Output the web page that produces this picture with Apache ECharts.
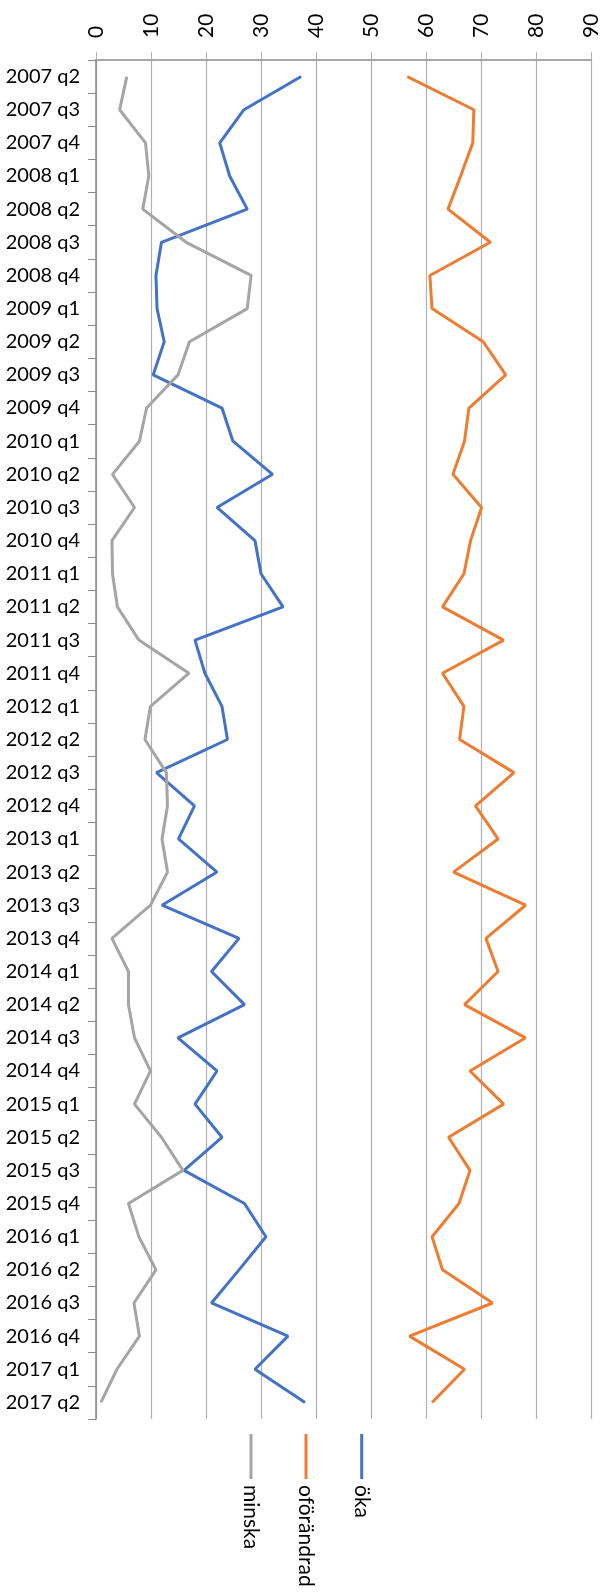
<!DOCTYPE html>
<html lang="sv">
<head>
    <meta charset="utf-8">
    <title>öka / oförändrad / minska</title>
    <script src="https://cdn.jsdelivr.net/npm/echarts@6/dist/echarts.min.js"></script>
    <style>
        html, body { margin: 0; padding: 0; background: #fff; }
        #chart { width: 609px; height: 1596px; }
    </style>
</head>
<body>
<div id="chart"></div>

<script type="text/javascript">
    // kvartal
    var quarters = [
        '2007 q2', '2007 q3', '2007 q4',
        '2008 q1', '2008 q2', '2008 q3', '2008 q4',
        '2009 q1', '2009 q2', '2009 q3', '2009 q4',
        '2010 q1', '2010 q2', '2010 q3', '2010 q4',
        '2011 q1', '2011 q2', '2011 q3', '2011 q4',
        '2012 q1', '2012 q2', '2012 q3', '2012 q4',
        '2013 q1', '2013 q2', '2013 q3', '2013 q4',
        '2014 q1', '2014 q2', '2014 q3', '2014 q4',
        '2015 q1', '2015 q2', '2015 q3', '2015 q4',
        '2016 q1', '2016 q2', '2016 q3', '2016 q4',
        '2017 q1', '2017 q2'
    ];

    var oka = [37.3, 26.9, 22.5, 24.3, 27.5, 11.9, 10.9, 11.1, 12.4, 10.4, 22.9,
        24.9, 32.1, 22.0, 28.9, 30.0, 34.0, 18.0, 19.8, 22.9, 23.9, 11.0, 17.9,
        15.0, 22.0, 12.0, 26.0, 21.0, 27.0, 14.9, 22.0, 18.0, 22.9, 16.0, 27.0,
        30.9, 26.0, 21.0, 34.9, 28.9, 38.0];

    var oforandrad = [56.6, 68.7, 68.5, 66.3, 64.0, 71.7, 60.7, 61.1, 70.4, 74.5, 67.8,
        67.0, 64.9, 70.1, 68.1, 66.9, 63.0, 74.1, 63.0, 66.9, 66.1, 76.0, 69.0,
        73.1, 65.0, 78.1, 70.9, 73.1, 67.0, 78.1, 68.0, 74.1, 64.1, 68.0, 66.0,
        61.1, 63.0, 72.1, 57.0, 67.0, 61.1];

    var minska = [5.6, 4.3, 9.0, 9.6, 8.5, 16.4, 28.2, 27.5, 17.0, 14.9, 9.2,
        7.9, 3.0, 7.0, 2.9, 3.0, 3.9, 7.8, 16.9, 9.9, 8.9, 12.8, 13.0,
        12.0, 13.0, 9.9, 2.9, 5.9, 5.9, 7.0, 9.9, 7.0, 11.9, 15.8, 5.9,
        7.8, 10.9, 6.9, 7.9, 3.8, 0.9];

    var seriesNames = ['öka', 'oförändrad', 'minska'];
    var seriesColors = ['#4472C4', '#ED7D31', '#A5A5A5'];
    var valueTicks = [0, 90, 10]; // min, max, steg

    var font = 'Lato, "Open Sans", sans-serif';
    var myChart = echarts.init(document.getElementById('chart'));

    // legenden är roterad, så den ritas med graphic
    var legendX = [361.7, 306, 251];
    var legendItems = [];
    seriesNames.forEach(function (name, i) {
        legendItems.push({
            type: 'line',
            shape: { x1: legendX[i], y1: 1434, x2: legendX[i], y2: 1479 },
            style: { stroke: seriesColors[i], lineWidth: 3 }
        });
        legendItems.push({
            type: 'text',
            x: legendX[i],
            y: 1485,
            rotation: -Math.PI / 2,
            style: {
                text: name,
                fill: '#000',
                font: '21px ' + font,
                align: 'left',
                verticalAlign: 'middle'
            }
        });
    });

    var option = {
        animation: false,
        color: seriesColors,
        textStyle: { fontFamily: font },
        grid: { left: 96, top: 60, right: 18, bottom: 177, containLabel: false },
        xAxis: {
            type: 'value',
            position: 'top',
            min: valueTicks[0],
            max: valueTicks[1],
            interval: valueTicks[2],
            axisLine: { show: true, lineStyle: { color: '#8a8a8a', width: 1.5 } },
            axisTick: { show: true, length: 8, lineStyle: { color: '#b0b0b0' } },
            axisLabel: { rotate: -90, margin: 22, color: '#000', fontSize: 21, fontFamily: font },
            splitLine: { show: true, lineStyle: { color: '#b0b0b0', width: 1.2 } }
        },
        yAxis: {
            type: 'category',
            inverse: true,
            data: quarters,
            boundaryGap: true,
            axisLine: { show: true, lineStyle: { color: '#8a8a8a', width: 1.5 } },
            axisTick: { show: true, length: 8, lineStyle: { color: '#8a8a8a' } },
            axisLabel: { interval: 0, margin: 16, color: '#000', fontSize: 20, fontFamily: font },
            splitLine: { show: false }
        },
        series: [
            { name: seriesNames[0], type: 'line', data: oka, symbol: 'none', lineStyle: { width: 3 } },
            { name: seriesNames[1], type: 'line', data: oforandrad, symbol: 'none', lineStyle: { width: 3 } },
            { name: seriesNames[2], type: 'line', data: minska, symbol: 'none', lineStyle: { width: 3 } }
        ],
        graphic: legendItems
    };

    myChart.setOption(option);
</script>
</body>
</html>
